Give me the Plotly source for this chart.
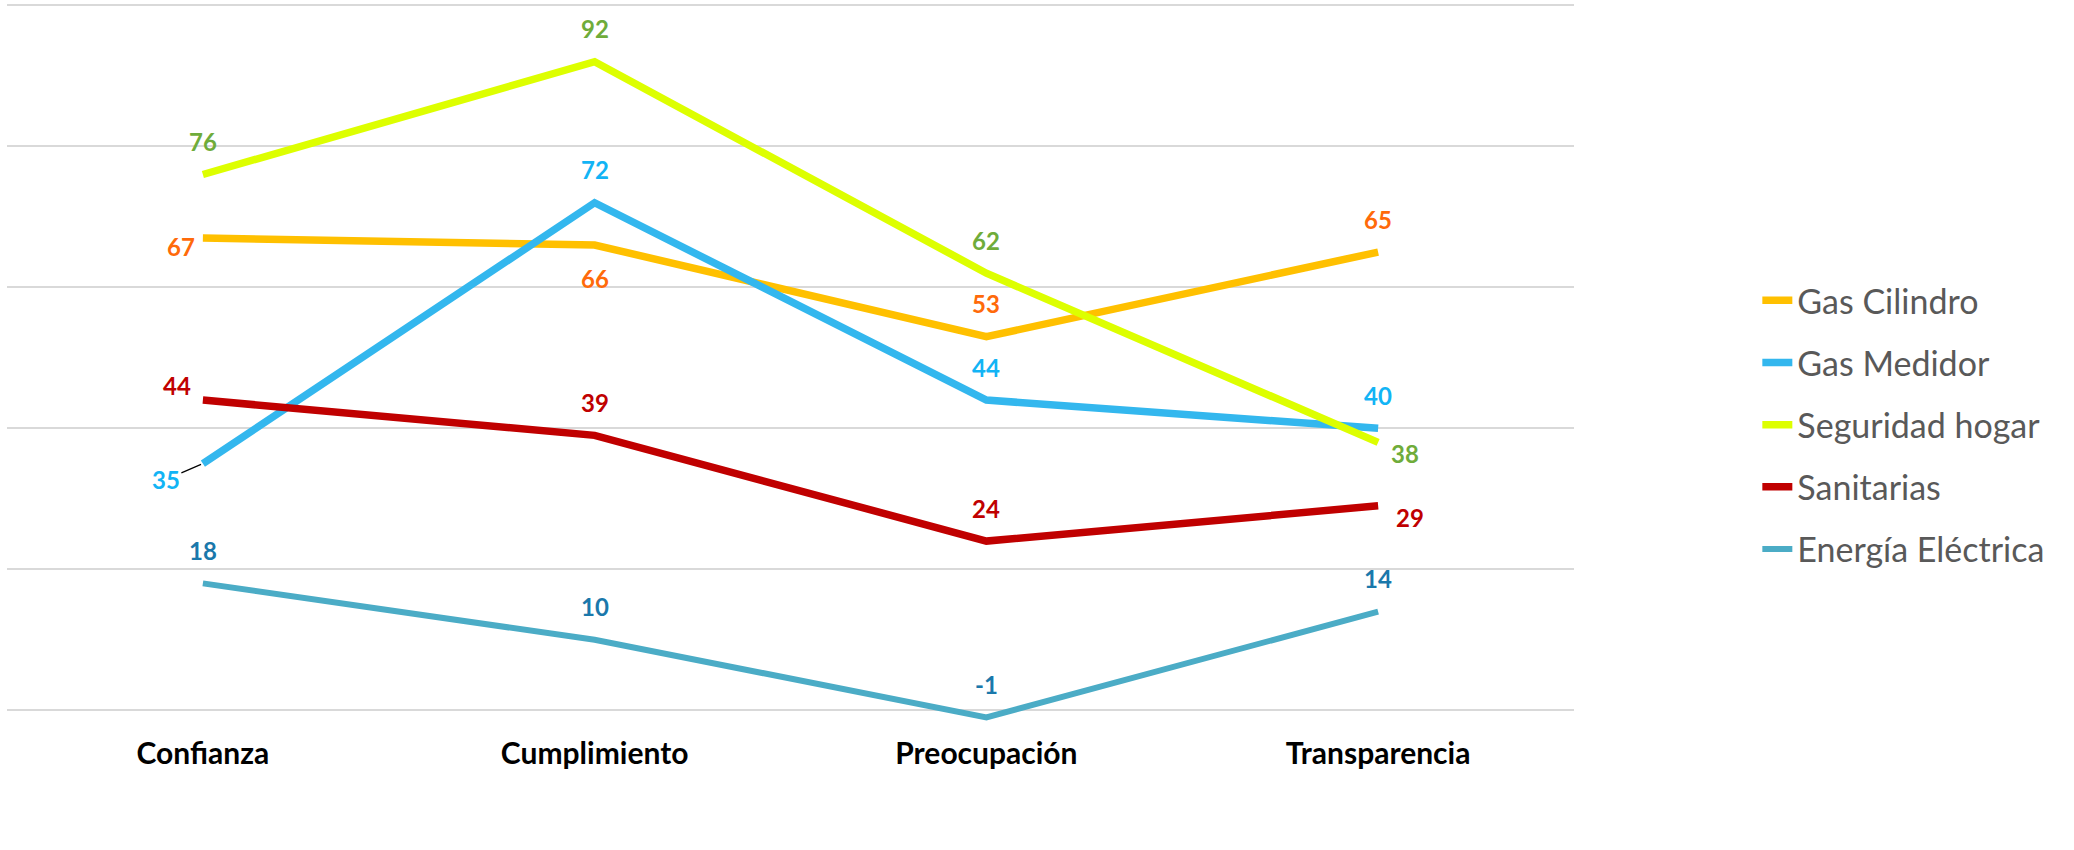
import plotly.graph_objects as go

categories = ["Confianza", "Cumplimiento", "Preocupación", "Transparencia"]

series_names = ["Gas Cilindro", "Gas Medidor", "Seguridad hogar", "Sanitarias", "Energía Eléctrica"]
gas_cilindro = [67, 66, 53, 65]
gas_medidor = [35, 72, 44, 40]
seguridad_hogar = [76, 92, 62, 38]
sanitarias = [44, 39, 24, 29]
energia_electrica = [18, 10, -1, 14]

grid_values = [0, 20, 40, 60, 80, 100]

# styles
line_colors = ["#FFC000", "#33B7EE", "#DDFF00", "#C00000", "#4BACC6"]
label_colors = ["#FF6A0A", "#12B4F5", "#6FAC3A", "#C00000", "#1A78AB"]
line_widths = [7.5, 7.5, 7.5, 7.5, 6]
# label offsets in pixels (dx, dy up)
label_offsets = [
    [(-22, -9), (0, -33), (0, 33), (0, 33)],
    [None, (0, 33), (0, 33), (0, 33)],
    [(0, 33), (0, 33), (0, 33), (27, -11)],
    [(-26, 15), (0, 33), (0, 33), (32, -12)],
    [(0, 33), (0, 33), (0, 33), (0, 33)],
]

all_values = [gas_cilindro, gas_medidor, seguridad_hogar, sanitarias, energia_electrica]

fig = go.Figure()
annotations = []
for i, (name, vals) in enumerate(zip(series_names, all_values)):
    fig.add_trace(go.Scatter(
        x=categories, y=vals, name=name, mode="lines",
        line=dict(color=line_colors[i], width=line_widths[i]),
        legendgroup=name, hoverinfo="x+y+name",
    ))
    for j, (c, v) in enumerate(zip(categories, vals)):
        off = label_offsets[i][j]
        if off is None:
            annotations.append(dict(
                x=c, y=v, xref="x", yref="y", text=f"<b>{v}</b>",
                showarrow=True, arrowhead=0, arrowwidth=1.2, arrowcolor="#000000",
                ax=-37, ay=16, standoff=2,
                font=dict(family="Lato", size=24, color=label_colors[i]),
            ))
        else:
            annotations.append(dict(
                x=c, y=v, xref="x", yref="y", text=f"<b>{v}</b>",
                showarrow=False, xshift=off[0], yshift=off[1],
                font=dict(family="Lato", size=24, color=label_colors[i]),
            ))

fig.update_layout(
    width=2074, height=850,
    margin=dict(l=7, r=500, t=2, b=128),
    paper_bgcolor="white", plot_bgcolor="white",
    annotations=annotations,
    showlegend=True,
    legend=dict(
        x=1.117, xanchor="left", y=0.413, yanchor="middle",
        font=dict(family="Lato", size=34, color="#595959"),
        tracegroupgap=15, itemwidth=30,
        bgcolor="rgba(0,0,0,0)",
    ),
    xaxis=dict(
        range=[-0.5, 3.5],
        showgrid=False, zeroline=False, showline=False,
        ticks="outside", ticklen=5, tickcolor="rgba(0,0,0,0)",
        tickfont=dict(family="Lato", size=30, color="#000000", weight="bold"),
    ),
    yaxis=dict(
        range=[-1.66, 100.47], tickvals=grid_values, showticklabels=False,
        showgrid=True, gridcolor="#D9D9D9", gridwidth=2, zeroline=False, showline=False,
    ),
)

fig.write_html("out.html", config={"displayModeBar": False},
               post_script="document.body.style.margin='0';")
